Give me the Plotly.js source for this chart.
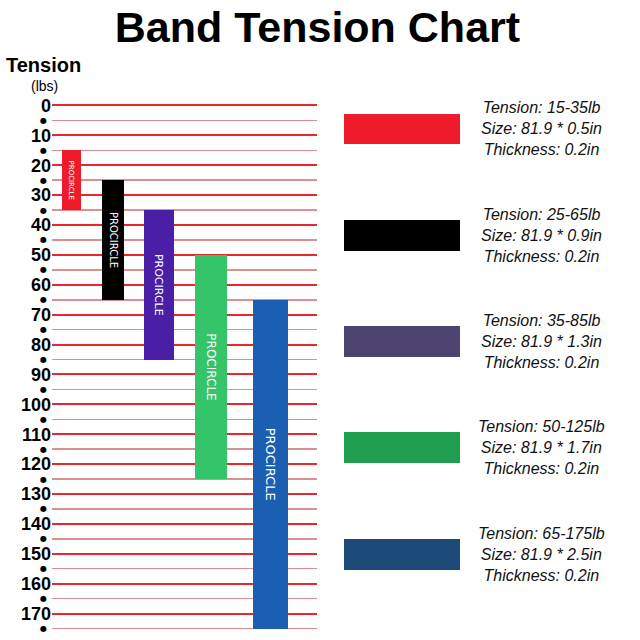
<!DOCTYPE html>
<html><head><meta charset="utf-8">
<script src="https://cdn.plot.ly/plotly-3.0.1.min.js"></script>
<style>html,body{margin:0;padding:0;background:#fff}#chart{width:640px;height:640px}</style>
</head><body><div id="chart"></div><script>
// ---- data ----
const bands = ['Red', 'Black', 'Purple', 'Green', 'Blue'];
const tensionMin = [15, 25, 35, 50, 65];
const tensionMax = [35, 65, 85, 125, 175];
const bandLength = [81.9, 81.9, 81.9, 81.9, 81.9];
const bandWidth = [0.5, 0.9, 1.3, 1.7, 2.5];
const bandThickness = [0.2, 0.2, 0.2, 0.2, 0.2];
const majorTicks = [0, 10, 20, 30, 40, 50, 60, 70, 80, 90, 100, 110, 120, 130, 140, 150, 160, 170];
const majorLabels = ['0', '10', '20', '30', '40', '50', '60', '70', '80', '90', '100', '110', '120', '130', '140', '150', '160', '170'];
const halfTicks = [5, 15, 25, 35, 45, 55, 65, 75, 85, 95, 105, 115, 125, 135, 145, 155, 165, 175];
const logoText = 'PROCIRCLE';

// ---- styles ----
const barColors = ['#ee1c2a', '#000000', '#4a1fa6', '#36c46b', '#1a5fb2'];
const swatchColors = ['#ee1c2a', '#000000', '#4e4470', '#1f9e50', '#1c4a78'];
const barWidths = [0.383, 0.444, 0.605, 0.645, 0.706];
const barNudge = [0.115, -0.048, -0.121, -0.073, 0.127];
const logoSizes = [7, 10, 11, 12, 13];
const FONT = 'Liberation Sans, Arial, sans-serif';

const spanTrace = {
  type: 'bar',
  x: bands,
  y: tensionMax.map((v, i) => v - tensionMin[i]),
  base: tensionMin,
  width: barWidths,
  offset: barWidths.map((w, i) => -w / 2 + barNudge[i]),
  marker: {color: barColors, line: {width: 0}},
  text: bands.map(() => logoText),
  textposition: 'inside',
  textangle: 90,
  insidetextanchor: 'middle',
  textfont: {color: '#ffffff', size: logoSizes, family: 'DejaVu Sans, sans-serif'},
  xaxis: 'x', yaxis: 'y',
  hoverinfo: 'skip',
  showlegend: false
};

const swatchTrace = {
  type: 'bar',
  orientation: 'h',
  y: bands,
  x: bands.map(() => 1),
  width: 0.29,
  marker: {color: swatchColors, line: {width: 0}},
  xaxis: 'x2', yaxis: 'y3',
  hoverinfo: 'skip',
  showlegend: false
};

const legendNotes = bands.map((b, i) => ({
  xref: 'paper', yref: 'y3',
  x: 0.861, y: b,
  xanchor: 'center', yanchor: 'middle',
  align: 'center',
  showarrow: false,
  text: 'Tension: ' + tensionMin[i] + '-' + tensionMax[i] + 'lb<br>' +
        'Size: ' + bandLength[i] + ' * ' + bandWidth[i] + 'in<br>' +
        'Thickness: ' + bandThickness[i] + 'in',
  font: {family: FONT, size: 16, color: '#111111', style: 'italic'}
}));

const halfDots = halfTicks.map(v => ({
  xref: 'paper', yref: 'y',
  x: -0.0158, y: v,
  xanchor: 'center', yanchor: 'middle',
  showarrow: false, text: '●',
  font: {family: 'DejaVu Sans, sans-serif', size: 8, color: '#000000'}
}));

const yRange = [175.5, -0.5];

const layout = {
  width: 640, height: 640,
  margin: {l: 52, r: 20, t: 104, b: 10},
  paper_bgcolor: '#ffffff', plot_bgcolor: '#ffffff',
  showlegend: false,
  bargap: 0,
  title: {
    text: 'Band Tension Chart',
    x: 0.496, xref: 'container', xanchor: 'center',
    y: 0.958, yref: 'container', yanchor: 'middle',
    font: {family: FONT, size: 43, color: '#000000', weight: 'bold'}
  },
  xaxis: {
    domain: [0, 0.4665], range: [-0.278, 5.065],
    showgrid: false, zeroline: false, showticklabels: false, ticks: '', showline: false
  },
  yaxis: {
    domain: [0, 1], range: yRange,
    tickmode: 'array', tickvals: majorTicks, ticktext: majorLabels,
    showgrid: true, gridcolor: 'rgb(232,38,43)', gridwidth: 2,
    zeroline: false, showline: false, ticks: '',
    tickfont: {family: FONT, size: 18, color: '#000000', weight: 'bold'},
    minor: {tickmode: 'array', tickvals: halfTicks, showgrid: true, gridcolor: 'rgb(220,143,143)', gridwidth: 1.5, ticks: ''}
  },
  xaxis2: {
    domain: [0.5141, 0.7183], range: [0, 1], anchor: 'y3', visible: false
  },
  yaxis3: {
    domain: [0, 1], anchor: 'x2', type: 'category',
    range: [4.713, -0.235], visible: false
  },
  annotations: [
    {xref: 'paper', yref: 'paper', x: -0.0845, y: 1.0741, xanchor: 'left', yanchor: 'middle',
     showarrow: false, text: 'Tension',
     font: {family: FONT, size: 20, color: '#000000', weight: 'bold'}},
    {xref: 'paper', yref: 'paper', x: -0.014, y: 1.0342, xanchor: 'center', yanchor: 'middle',
     showarrow: false, text: '(lbs)',
     font: {family: FONT, size: 14, color: '#000000'}}
  ].concat(legendNotes, halfDots)
};

Plotly.newPlot('chart', [spanTrace, swatchTrace], layout, {staticPlot: true, displayModeBar: false});
</script></body></html>
